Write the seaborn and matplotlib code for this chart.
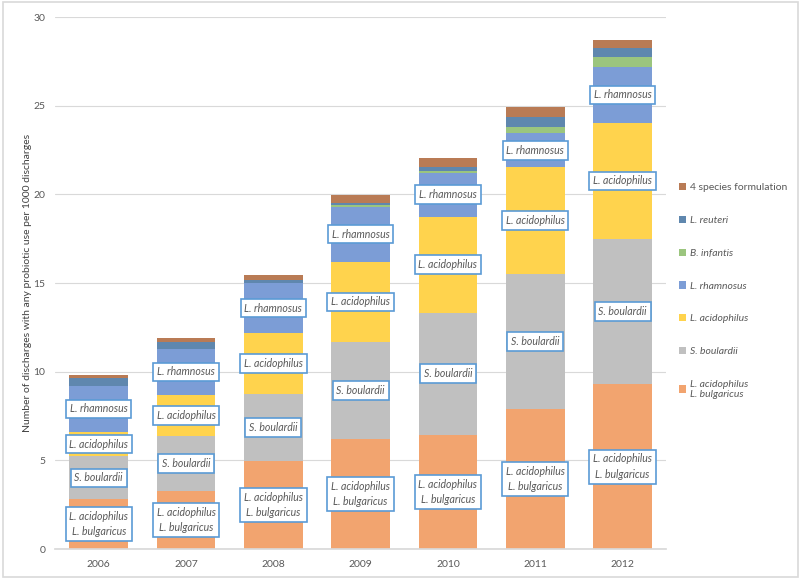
import numpy as np
import pandas as pd
import matplotlib
matplotlib.use("Agg")
import matplotlib.pyplot as plt
from matplotlib.patches import Patch, Rectangle
import seaborn as sns

years = ["2006", "2007", "2008", "2009", "2010", "2011", "2012"]
acid_bulg = [2.82, 3.30, 4.98, 6.22, 6.44, 7.89, 9.30]
boulardii = [2.40, 3.05, 3.76, 5.45, 6.90, 7.63, 8.19]
acidophilus = [1.38, 2.35, 3.44, 4.54, 5.41, 6.01, 6.56]
rhamnosus = [2.60, 2.59, 2.81, 3.10, 2.48, 1.92, 3.12]
infantis = [0.00, 0.00, 0.02, 0.08, 0.11, 0.37, 0.60]
reuteri = [0.45, 0.41, 0.15, 0.15, 0.19, 0.53, 0.51]
four_species = [0.15, 0.19, 0.32, 0.43, 0.55, 0.60, 0.43]

series_names = ["L. acidophilus\nL. bulgaricus", "S. boulardii", "L. acidophilus",
                "L. rhamnosus", "B. infantis", "L. reuteri", "4 species formulation"]
series_vals = [acid_bulg, boulardii, acidophilus, rhamnosus, infantis, reuteri, four_species]
colors = ["#F2A46F", "#C0C0C0", "#FFD34D", "#7C9DD6", "#9BC57E", "#5F87AE", "#B97B55"]
labelled = [True, True, True, True, False, False, False]
italic = [True, True, True, True, True, True, False]

sns.set_theme(style="white")
plt.rcParams["font.family"] = ["Lato", "DejaVu Sans"]

fig = plt.figure(figsize=(8, 5.8), dpi=100)
ax = fig.add_axes([0.0688, 0.0534, 0.764, 0.917])

bottom = np.zeros(len(years))
for name, vals, col, lab in zip(series_names, series_vals, colors, labelled):
    df = pd.DataFrame({"year": years, "value": vals})
    sns.barplot(data=df, x="year", y="value", bottom=bottom, color=col,
                width=0.67, linewidth=0, errorbar=None, saturation=1, ax=ax)
    if lab:
        for i, v in enumerate(vals):
            ax.text(i, bottom[i] + v / 2, name, ha="center", va="center",
                    fontsize=7.6, style="italic", color="#595959",
                    linespacing=1.5, zorder=5,
                    bbox=dict(boxstyle="square,pad=0.35", fc="white",
                              ec="#5B9BD5", lw=1.2))
    bottom = bottom + np.array(vals)

ax.set_ylim(0, 30)
ax.set_xlim(-0.5, 6.5)
ax.set_yticks([0, 5, 10, 15, 20, 25, 30])
ax.yaxis.grid(True, color="#D9D9D9", lw=0.8)
ax.set_axisbelow(True)
for s in ["top", "right", "left"]:
    ax.spines[s].set_visible(False)
ax.spines["bottom"].set_color("#D9D9D9")
ax.tick_params(axis="y", length=0, labelsize=7.5, colors="#595959", pad=7)
ax.tick_params(axis="x", length=0, labelsize=7.5, colors="#595959", pad=8)
ax.set_xlabel("")
ax.set_ylabel("Number of discharges with any probiotic use per 1000 discharges",
              fontsize=7.5, color="#404040", labelpad=1)

handles = [Patch(facecolor=c, edgecolor="none") for c in colors]
leg = ax.legend(handles[::-1], series_names[::-1], loc="center left",
                bbox_to_anchor=(1.005, 0.485), frameon=False, fontsize=7.5,
                handlelength=0.7, handleheight=0.7, handletextpad=0.4,
                labelspacing=2.25, labelcolor="#595959")
for t, it in zip(leg.get_texts(), italic[::-1]):
    if it:
        t.set_style("italic")

fig.patches.append(Rectangle((0.004, 0.005), 0.993, 0.992, transform=fig.transFigure,
                             fill=False, ec="#D9D9D9", lw=1.2))

fig.savefig("out.png", dpi=100)
